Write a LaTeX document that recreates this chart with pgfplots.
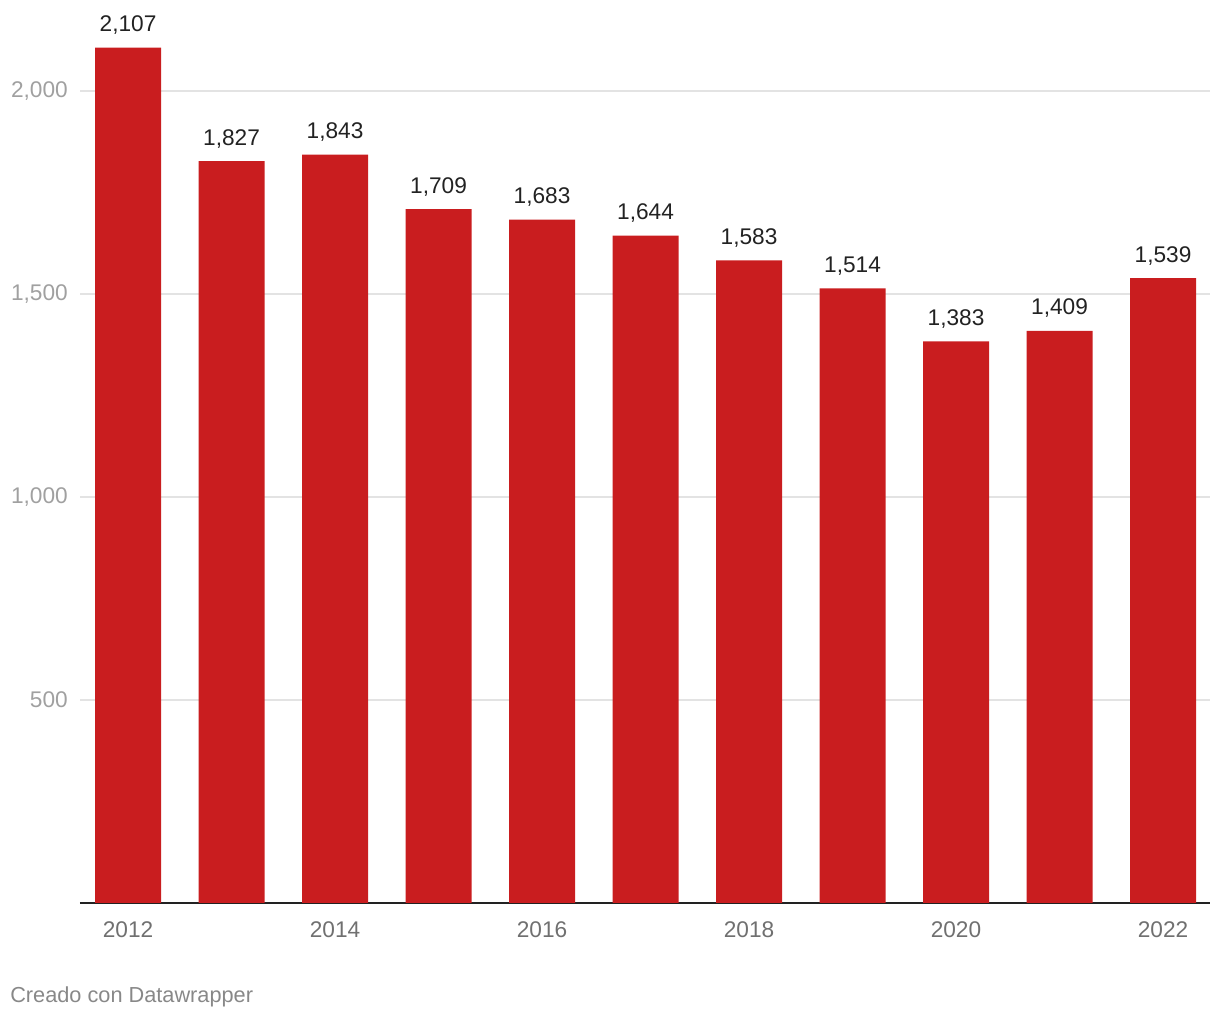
\documentclass[border=0pt]{standalone}
\usepackage{pgfplots}
\pgfplotsset{compat=1.18}
\usepackage{fontspec}
\setmainfont{Liberation Sans}
\definecolor{barred}{HTML}{C91D1F}
\definecolor{gridgray}{HTML}{E3E3E3}
\definecolor{ylab}{HTML}{A0A0A0}
\definecolor{xlab}{HTML}{707070}
\definecolor{vlab}{HTML}{222222}
\definecolor{foot}{HTML}{888888}
\begin{document}
\begin{tikzpicture}
\pgfkeys{/pgf/number format/.cd, assume math mode=true, 1000 sep={,}, fixed, precision=0}
\begin{axis}[
  at={(0,0)}, anchor=south west,
  scale only axis,
  width=847.5pt, height=669.9pt,
  xmin=2011.536, xmax=2022.454,
  ymin=0, ymax=2200,
  axis x line*=bottom,
  axis y line*=left,
  x axis line style={vlab, line width=1.3pt},
  y axis line style={draw=none},
  xtick={2012,2014,...,2022},
  xticklabel={\pgfmathprintnumber[1000 sep={}]{\tick}},
  ytick={500,1000,1500,2000},
  major tick length=0pt,
  ymajorgrids,
  major grid style={gridgray, line width=0.9pt},
  tick label style={font=\fontsize{17pt}{20pt}\selectfont},
  yticklabel style={ylab, inner sep=0pt, anchor=east, xshift=-9pt},
  xticklabel style={xlab, inner sep=0pt, anchor=north, yshift=-13.5pt},
  clip=false,
  axis on top=false,
]
\addplot[ybar, bar width=49.5pt, fill=barred, draw=none,
  nodes near coords,
  every node near coord/.append style={vlab, font=\fontsize{17pt}{20pt}\selectfont, anchor=base, inner sep=0pt, yshift=12pt},
] coordinates {
(2012,2107) (2013,1827) (2014,1843) (2015,1709) (2016,1683) (2017,1644)
(2018,1583) (2019,1514) (2020,1383) (2021,1409) (2022,1539)
};
\end{axis}
\node[anchor=west, inner sep=0pt, foot, font=\fontsize{16.3pt}{19pt}\selectfont] at (-52.5pt,-70.5pt) {Creado con Datawrapper};
\path[use as bounding box] (-60pt,-87.75pt) rectangle (855pt,677.25pt);
\end{tikzpicture}
\end{document}
